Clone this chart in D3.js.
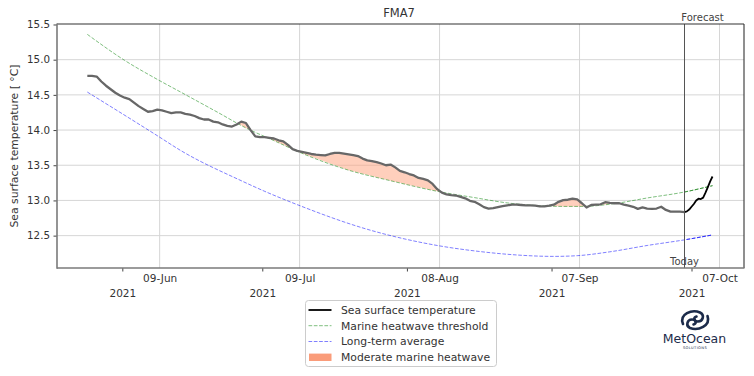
<!DOCTYPE html>
<html><head><meta charset="utf-8">
<script src="https://cdn.jsdelivr.net/npm/d3@7"></script>
<style>body{margin:0;background:#fff}svg{display:block}text{font-family:"DejaVu Sans",sans-serif}</style>
</head><body><svg id="c" width="754" height="376"></svg>
<script>
const title = "FMA7";
const yLabel = "Sea surface temperature [ °C]";
// hindcast SST, daily at 12:00 UTC from sstStart
const sstStart = "2021-05-24T12:00:00Z";
const sstHindcast = [
14.77,14.77,14.76,14.69,14.63,14.58,14.53,14.49,14.46,14.44,
14.39,14.34,14.30,14.26,14.27,14.29,14.28,14.26,14.24,14.25,
14.25,14.23,14.22,14.20,14.17,14.15,14.15,14.12,14.11,14.08,
14.06,14.05,14.08,14.12,14.10,14.00,13.91,13.90,13.90,13.89,
13.88,13.855,13.84,13.79,13.73,13.705,13.69,13.675,13.66,13.65,
13.645,13.64,13.66,13.675,13.675,13.665,13.655,13.645,13.63,13.595,
13.57,13.56,13.545,13.525,13.50,13.51,13.47,13.42,13.40,13.375,
13.355,13.32,13.305,13.285,13.235,13.16,13.11,13.085,13.075,13.07,
13.05,13.03,12.995,12.98,12.945,12.905,12.885,12.89,12.905,12.92,
12.93,12.94,12.94,12.935,12.93,12.93,12.925,12.915,12.915,12.925,
12.94,12.98,13.005,13.01,13.025,13.015,12.96,12.90,12.935,12.94,
12.945,12.975,12.965,12.96,12.96,12.94,12.925,12.91,12.88,12.90,
12.885,12.88,12.885,12.91,12.865,12.84,12.84,12.84,12.835];
// forecast SST, every 12 hours from today
const forecastStart = "2021-09-29T12:00:00Z";
const forecastStepHours = 12;
const sstForecast = [12.835,12.845,12.87,12.91,12.95,13.0,13.025,13.02,13.04,13.11,13.19,13.27,13.34];
const thresholdDates = ["2021-05-24","2021-06-01","2021-06-08","2021-06-13","2021-06-21","2021-06-27","2021-07-03","2021-07-09","2021-07-19","2021-07-28","2021-08-07","2021-08-15","2021-08-22","2021-08-29","2021-09-03","2021-09-07","2021-09-14","2021-09-21","2021-09-29","2021-10-05"];
const thresholdValues = [15.36,14.99,14.72,14.54,14.25,14.03,13.85,13.67,13.43,13.28,13.13,13.04,12.965,12.925,12.915,12.915,12.955,13.035,13.12,13.21];
const averageDates = ["2021-05-24","2021-06-08","2021-06-13","2021-06-26","2021-07-01","2021-07-08","2021-07-23","2021-08-07","2021-08-16","2021-08-23","2021-09-01","2021-09-06","2021-09-13","2021-09-21","2021-09-29","2021-10-05"];
const averageValues = [14.54,13.92,13.71,13.28,13.13,12.94,12.59,12.36,12.275,12.23,12.205,12.215,12.27,12.36,12.44,12.51];
const todayDate = "2021-09-29T12:00:00Z";
const yTicks = [12.5,13.0,13.5,14.0,14.5,15.0,15.5];
const monthTicks = ["2021-06-01","2021-07-01","2021-08-01","2021-09-01","2021-10-01"];
const dayTicks = ["2021-06-09","2021-07-09","2021-08-08","2021-09-07","2021-10-07"];
const legendLabels = ["Sea surface temperature","Marine heatwave threshold","Long-term average","Moderate marine heatwave"];

const svg = d3.select("#c");
const L = 57, R = 744, T = 24, B = 268;
const x = d3.scaleUtc().domain([new Date("2021-05-18T00:00:00Z"), new Date("2021-10-12T06:00:00Z")]).range([L, R]);
const y = d3.scaleLinear().domain([12.04, 15.507]).range([B, T]);
const pd = s => new Date(s.length === 10 ? s + "T12:00:00Z" : s);

const t0 = pd(sstStart);
const sst = sstHindcast.map((v, i) => ({d: d3.utcDay.offset(t0, i), v}));
const f0 = pd(forecastStart);
const fc = sstForecast.map((v, i) => ({d: d3.utcHour.offset(f0, i * forecastStepHours), v}));
const thr = thresholdDates.map((s, i) => ({d: pd(s), v: thresholdValues[i]}));
const avg = averageDates.map((s, i) => ({d: pd(s), v: averageValues[i]}));
const today = pd(todayDate);

// grid
const g = svg.append("g");
g.selectAll(".hg").data(yTicks.slice(0, -1)).join("line")
  .attr("x1", L).attr("x2", R).attr("y1", d => y(d)).attr("y2", d => y(d))
  .attr("stroke", "#d6d6d6").attr("stroke-width", 1);
g.selectAll(".vg").data(dayTicks.map(pd).map(d => d3.utcHour.offset(d, -12))).join("line")
  .attr("x1", d => x(d)).attr("x2", d => x(d)).attr("y1", T).attr("y2", B)
  .attr("stroke", "#d6d6d6").attr("stroke-width", 1);

// heatwave fill
const thrAt = d => {
  const i = d3.bisector(p => p.d).right(thr, d);
  if (i <= 0) return thr[0].v;
  if (i >= thr.length) return thr[thr.length - 1].v;
  const a = thr[i - 1], b = thr[i];
  const t = (d - a.d) / (b.d - a.d);
  return a.v + (b.v - a.v) * t;
};
const pts = [];
for (let i = 0; i < sst.length; i++) {
  const p = sst[i], tv = thrAt(p.d), diff = p.v - tv;
  if (i > 0) {
    const q = sst[i - 1], tq = thrAt(q.d), dq = q.v - tq;
    if ((dq > 0) !== (diff > 0)) {
      const f = dq / (dq - diff);
      const dd = new Date(+q.d + (p.d - q.d) * f);
      const vv = q.v + (p.v - q.v) * f;
      pts.push({d: dd, lo: vv, hi: vv});
    }
  }
  pts.push({d: p.d, lo: tv, hi: Math.max(p.v, tv)});
}
svg.append("path").datum(pts)
  .attr("d", d3.area().x(p => x(p.d)).y0(p => y(p.lo)).y1(p => y(p.hi)))
  .attr("fill", "#ffa07a").attr("fill-opacity", 0.5);

// dashed climatology lines
const line = d3.line().x(p => x(p.d)).y(p => y(p.v)).curve(d3.curveMonotoneX);
svg.append("defs").append("clipPath").attr("id", "fut").append("rect")
  .attr("x", x(today)).attr("y", 0).attr("width", R - x(today) + 5).attr("height", 376);
svg.append("path").datum(thr).attr("d", line).attr("fill", "none")
  .attr("stroke", "#008000").attr("stroke-opacity", 0.5).attr("stroke-width", 1).attr("stroke-dasharray", "3.7,1.6");
svg.append("path").datum(avg).attr("d", line).attr("fill", "none")
  .attr("stroke", "#0000ff").attr("stroke-opacity", 0.5).attr("stroke-width", 1).attr("stroke-dasharray", "3.7,1.6");
svg.append("path").datum(thr).attr("d", line).attr("fill", "none").attr("clip-path", "url(#fut)")
  .attr("stroke", "#2e8b2e").attr("stroke-opacity", 0.8).attr("stroke-width", 1).attr("stroke-dasharray", "3.7,1.6");
svg.append("path").datum(avg).attr("d", line).attr("fill", "none").attr("clip-path", "url(#fut)")
  .attr("stroke", "#2020ff").attr("stroke-opacity", 0.8).attr("stroke-width", 1).attr("stroke-dasharray", "3.7,1.6");

// SST lines
const lin = d3.line().x(p => x(p.d)).y(p => y(p.v));
svg.append("path").datum(sst).attr("d", lin).attr("fill", "none")
  .attr("stroke", "#676767").attr("stroke-width", 2.3).attr("stroke-linejoin", "round");
svg.append("path").datum(fc).attr("d", lin).attr("fill", "none")
  .attr("stroke", "#000").attr("stroke-width", 1.8).attr("stroke-linejoin", "round");

// today line
svg.append("line").attr("x1", x(today)).attr("x2", x(today)).attr("y1", T).attr("y2", B)
  .attr("stroke", "#555").attr("stroke-width", 1);

// axes
const ya = svg.append("g").attr("transform", `translate(${L},0)`)
  .call(d3.axisLeft(y).tickValues(yTicks).tickFormat(d3.format(".1f")).tickSize(3.5).tickPadding(3.5));
ya.select(".domain").remove();
ya.selectAll("text").attr("font-size", 10.3).attr("fill", "#333").attr("font-family", "DejaVu Sans");
ya.selectAll("line").attr("stroke", "#444");

const xm = svg.append("g").attr("transform", `translate(0,${B})`)
  .call(d3.axisBottom(x).tickValues(monthTicks.map(s => new Date(s + "T00:00:00Z"))).tickFormat(d3.utcFormat("%Y")).tickSize(3.5).tickPadding(18));
xm.select(".domain").remove();
xm.selectAll("text").attr("font-size", 10.5).attr("fill", "#333").attr("font-family", "DejaVu Sans");
xm.selectAll("line").attr("stroke", "#444");
const xd = svg.append("g").attr("transform", `translate(0,${B})`)
  .call(d3.axisBottom(x).tickValues(dayTicks.map(s => new Date(s + "T00:00:00Z"))).tickFormat(d3.utcFormat("%d-%b")).tickSize(0).tickPadding(6.5));
xd.select(".domain").remove();
xd.selectAll("text").attr("font-size", 10.5).attr("fill", "#333").attr("font-family", "DejaVu Sans");

// spines
svg.append("line").attr("x1", L).attr("x2", R).attr("y1", T).attr("y2", T).attr("stroke", "#333").attr("stroke-width", 1.1);
svg.append("line").attr("x1", R).attr("x2", R).attr("y1", T).attr("y2", B).attr("stroke", "#333").attr("stroke-width", 1.1);
svg.append("line").attr("x1", L).attr("x2", L).attr("y1", T - 0.5).attr("y2", B + 0.8).attr("stroke", "#7a7a7a").attr("stroke-width", 1.6);
svg.append("line").attr("x1", L).attr("x2", R + 0.5).attr("y1", B).attr("y2", B).attr("stroke", "#7a7a7a").attr("stroke-width", 1.6);

// texts
svg.append("text").attr("x", 399).attr("y", 17).attr("text-anchor", "middle").attr("font-size", 11.5).attr("fill", "#333").text(title);
svg.append("text").attr("transform", "translate(17.5,146) rotate(-90)").attr("text-anchor", "middle").attr("font-size", 10.8).attr("fill", "#333").text(yLabel);
svg.append("text").attr("x", 702.5).attr("y", 20.5).attr("text-anchor", "middle").attr("font-size", 10).attr("fill", "#444").text("Forecast");
svg.append("text").attr("x", x(today)).attr("y", 264.5).attr("text-anchor", "middle").attr("font-size", 10).attr("fill", "#444").text("Today");

// legend
const lg = svg.append("g");
lg.append("rect").attr("x", 305.5).attr("y", 300.5).attr("width", 191).attr("height", 66).attr("rx", 3)
  .attr("fill", "#fff").attr("fill-opacity", 0.8).attr("stroke", "#cccccc").attr("stroke-width", 1);
const rows = [310, 325.7, 341.5, 357.3];
lg.append("line").attr("x1", 308.5).attr("x2", 331.5).attr("y1", rows[0]).attr("y2", rows[0]).attr("stroke", "#000").attr("stroke-width", 1.8);
lg.append("line").attr("x1", 308.5).attr("x2", 331.5).attr("y1", rows[1]).attr("y2", rows[1]).attr("stroke", "#008000").attr("stroke-opacity", 0.5).attr("stroke-dasharray", "3.7,1.6");
lg.append("line").attr("x1", 308.5).attr("x2", 331.5).attr("y1", rows[2]).attr("y2", rows[2]).attr("stroke", "#0000ff").attr("stroke-opacity", 0.5).attr("stroke-dasharray", "3.7,1.6");
lg.append("rect").attr("x", 309).attr("y", rows[3] - 3.7).attr("width", 22.5).attr("height", 7.4).attr("fill", "#fa9c7a");
lg.selectAll(".lt").data(legendLabels).join("text").attr("x", 341).attr("y", (d, i) => rows[i]).attr("dy", "0.36em")
  .attr("font-size", 10.8).attr("fill", "#333").text(d => d);

// logo
const navy = "#1c2b4a";
const logo = svg.append("g");
logo.append("path").attr("d", "M683,324 C679,314 692,309 700,312.5 C705,315 703,321.5 698,321.5 C694,321.5 693,317.5 696.5,316.5")
  .attr("fill", "none").attr("stroke", navy).attr("stroke-width", 2.6).attr("stroke-linecap", "round");
logo.append("path").attr("d", "M707.5,316 C711,326 698,331 690,328 C685.5,326 687,319.5 692,319.5 C696,319.5 697,323.5 693.5,324.5")
  .attr("fill", "none").attr("stroke", navy).attr("stroke-width", 2.6).attr("stroke-linecap", "round");
logo.append("text").attr("x", 694.5).attr("y", 343).attr("text-anchor", "middle").attr("font-size", 12.5)
  .attr("font-weight", 500).attr("font-family", "Noto Sans").attr("fill", navy).text("MetOcean");
logo.append("text").attr("x", 695).attr("y", 348.8).attr("text-anchor", "middle").attr("font-size", 3.6)
  .attr("letter-spacing", 0.4).attr("fill", navy).text("SOLUTIONS");
</script></body></html>
